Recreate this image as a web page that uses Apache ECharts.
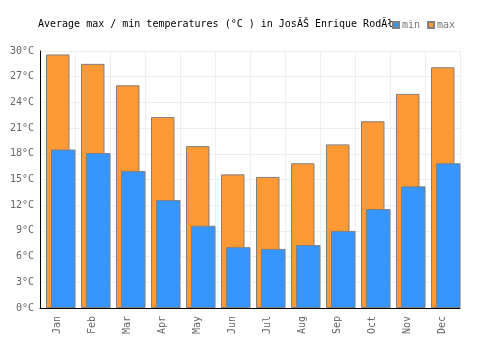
<!DOCTYPE html>
<html>
<head>
<meta charset="utf-8">
<script src="https://cdn.jsdelivr.net/npm/echarts@6/dist/echarts.min.js"></script>
<style>
  html, body { margin: 0; padding: 0; background: #fff; }
  #chart { width: 500px; height: 350px; }
</style>
</head>
<body>
<div id="chart"></div>
<script>
const months = ['Jan', 'Feb', 'Mar', 'Apr', 'May', 'Jun', 'Jul', 'Aug', 'Sep', 'Oct', 'Nov', 'Dec']
const maxTemps = [29.6, 28.5, 26.0, 22.3, 18.9, 15.6, 15.3, 16.9, 19.1, 21.8, 25.0, 28.1]
const minTemps = [18.5, 18.1, 16.0, 12.6, 9.6, 7.1, 6.9, 7.35, 9.0, 11.55, 14.2, 16.9]

const font = 'DejaVu Sans Mono'
const myChart = echarts.init(document.getElementById('chart'))
const option = {
    animation: false,
    title: {
        text: 'Average max / min temperatures (°C ) in JosĂŠ Enrique RodĂł',
        left: 33,
        top: 14,
        textStyle: { fontFamily: font, fontSize: 10, fontWeight: 'normal', color: '#000' }
    },
    legend: {
        data: ['min', 'max'],
        left: 387,
        top: 15,
        itemWidth: 6,
        itemHeight: 6,
        itemGap: 7,
        icon: 'rect',
        textStyle: { fontFamily: font, fontSize: 10, color: '#777', padding: [0, 0, 0, -2] }
    },
    grid: { left: 40, right: 40, top: 51, bottom: 42 },
    xAxis: {
        type: 'category',
        data: months,
        axisLine: { lineStyle: { color: '#000', width: 1 } },
        axisTick: { show: false },
        axisLabel: { rotate: 90, fontFamily: font, fontSize: 10, color: '#666', margin: 8 },
        splitLine: { show: true, lineStyle: { color: '#eee' } }
    },
    yAxis: {
        type: 'value',
        min: 0,
        max: 30,
        interval: 3,
        axisLine: { show: true, lineStyle: { color: '#000', width: 1 } },
        axisTick: { show: false },
        axisLabel: { formatter: '{value}°C', fontFamily: font, fontSize: 10, color: '#666', margin: 6 },
        splitLine: { lineStyle: { color: '#eee' } }
    },
    series: [
        // empty spacer so the bar pair sits a little right of centre, as in the original
        { name: 'pad', type: 'bar', data: [], barWidth: 30.5, barGap: '-78.7%' },
        {
            name: 'max',
            type: 'bar',
            data: maxTemps,
            barWidth: 23.5,
            itemStyle: { color: '#ff9933', borderColor: '#808080', borderWidth: 1 }
        },
        {
            name: 'min',
            type: 'bar',
            data: minTemps,
            barWidth: 24.5,
            itemStyle: { color: '#3796fd', borderColor: '#808080', borderWidth: 1 }
        }
    ]
}
myChart.setOption(option)
</script>
</body>
</html>
